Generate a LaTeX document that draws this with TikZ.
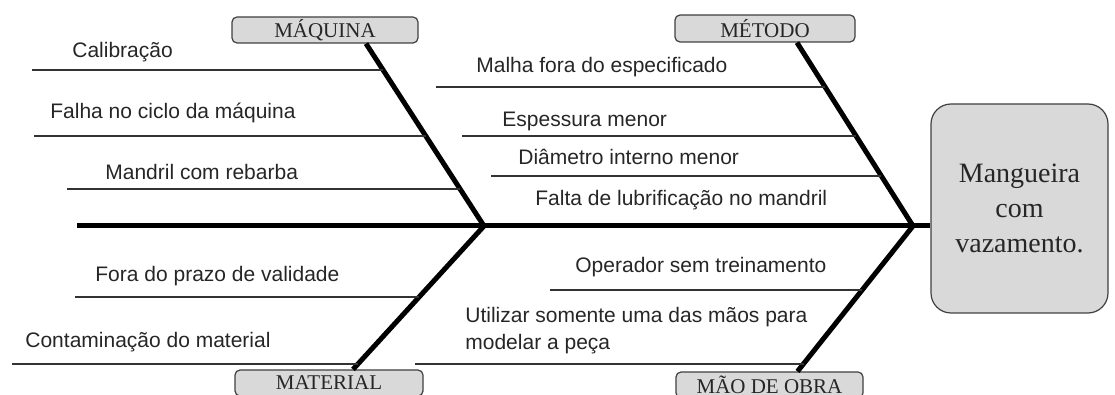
\documentclass[tikz,border=0pt]{standalone}
\usepackage{fontspec}
\setmainfont{Liberation Serif}
\setsansfont{Liberation Sans}
\usepackage{tikz}
\usetikzlibrary{positioning}

\begin{document}
\begin{tikzpicture}[x=0.5pt,y=-0.5pt,
  bone/.style={line width=2.5pt,black},
  twig/.style={line width=0.7pt,twiggray},
  cause/.style={anchor=base west,inner sep=0pt,text=textgray,font=\sffamily\fontsize{10.5}{13.5}\selectfont},
  catbox/.style={draw=boxline,fill=boxgray,rounded corners=2.5pt,line width=0.6pt,minimum height=13pt,inner sep=0pt,text=textgray,font=\rmfamily\fontsize{10.5}{12}\selectfont},
  headbox/.style={draw=boxline,fill=boxgray,rounded corners=10pt,line width=0.6pt,minimum width=88.5pt,minimum height=104.5pt,inner sep=0pt,align=center,text=textgray,font=\rmfamily\fontsize{14}{17.5}\selectfont}]
\definecolor{boxgray}{HTML}{D9D9D9}
\definecolor{boxline}{HTML}{404040}
\definecolor{twiggray}{HTML}{333333}
\definecolor{textgray}{HTML}{262626}

\clip (0,0) rectangle (1115,395);

% effect
\node[headbox] (head) at (1019.5,208.5) {Mangueira\\com\\vazamento.};

% categories
\node[catbox,minimum width=93pt] (maq) at (325,30) {MÁQUINA};
\node[catbox,minimum width=90pt,minimum height=13.5pt] (met) at (765,28.5) {MÉTODO};
\node[catbox,minimum width=94pt] (mat) at (329,383) {MATERIAL};
\node[catbox,minimum width=93.5pt] (mao) at (769.5,385) {MÃO DE OBRA};

% spine and bones
\coordinate (tail) at (77,226);
\coordinate (j1) at (484,226);
\coordinate (j2) at (913,226);
\draw[bone] (tail) -- (tail -| head.west);
\draw[bone] ([xshift=20.5pt]maq.south) -- (j1);
\draw[bone] ([xshift=16pt]met.south) -- (j2);
\draw[bone] (j1) -- ([xshift=12pt]mat.north);
\draw[bone] (j2) -- ([xshift=14pt]mao.north);

% Maquina
\coordinate (calibL) at (32,70);   \coordinate (calibR) at (383,70);
\coordinate (falhaL) at (34,136);  \coordinate (falhaR) at (426,136);
\coordinate (mandL) at (67,189);   \coordinate (mandR) at (460,189);
\draw[twig] (calibL) -- (calibR);
\draw[twig] (falhaL) -- (falhaR);
\draw[twig] (mandL) -- (mandR);
\node[cause] (calib) at (72,58) {Calibração};
\node[cause] (falha) at (50,119) {Falha no ciclo da máquina};
\node[cause] (mand) at (105,180) {Mandril com rebarba};

% Metodo
\coordinate (malhaL) at (436,87);  \coordinate (malhaR) at (825,87);
\coordinate (espL) at (462,136);   \coordinate (espR) at (856,136);
\coordinate (diamL) at (491,176);  \coordinate (diamR) at (881,176);
\draw[twig] (malhaL) -- (malhaR);
\draw[twig] (espL) -- (espR);
\draw[twig] (diamL) -- (diamR);
\node[cause] (malha) at (476,73) {Malha fora do especificado};
\node[cause] (esp) at (502,127) {Espessura menor};
\node[cause] (diam) at (518,165) {Diâmetro interno menor};
\node[cause] (falta) at (535,206) {Falta de lubrificação no mandril};

% Material
\coordinate (foraL) at (75,297);   \coordinate (foraR) at (419,297);
\coordinate (contL) at (12,364);   \coordinate (contR) at (358,364);
\draw[twig] (foraL) -- (foraR);
\draw[twig] (contL) -- (contR);
\node[cause] (fora) at (95,282) {Fora do prazo de validade};
\node[cause] (cont) at (25,348) {Contaminação do material};

% Mao de obra
\coordinate (operL) at (550,290);  \coordinate (operR) at (862,290);
\coordinate (utilL) at (415,364);  \coordinate (utilR) at (804,364);
\draw[twig] (operL) -- (operR);
\draw[twig] (utilL) -- (utilR);
\node[cause] (oper) at (575,273) {Operador sem treinamento};
\node[cause,align=left] (util) at (465,350) {Utilizar somente uma das mãos para\\modelar a peça};
\end{tikzpicture}
\end{document}
